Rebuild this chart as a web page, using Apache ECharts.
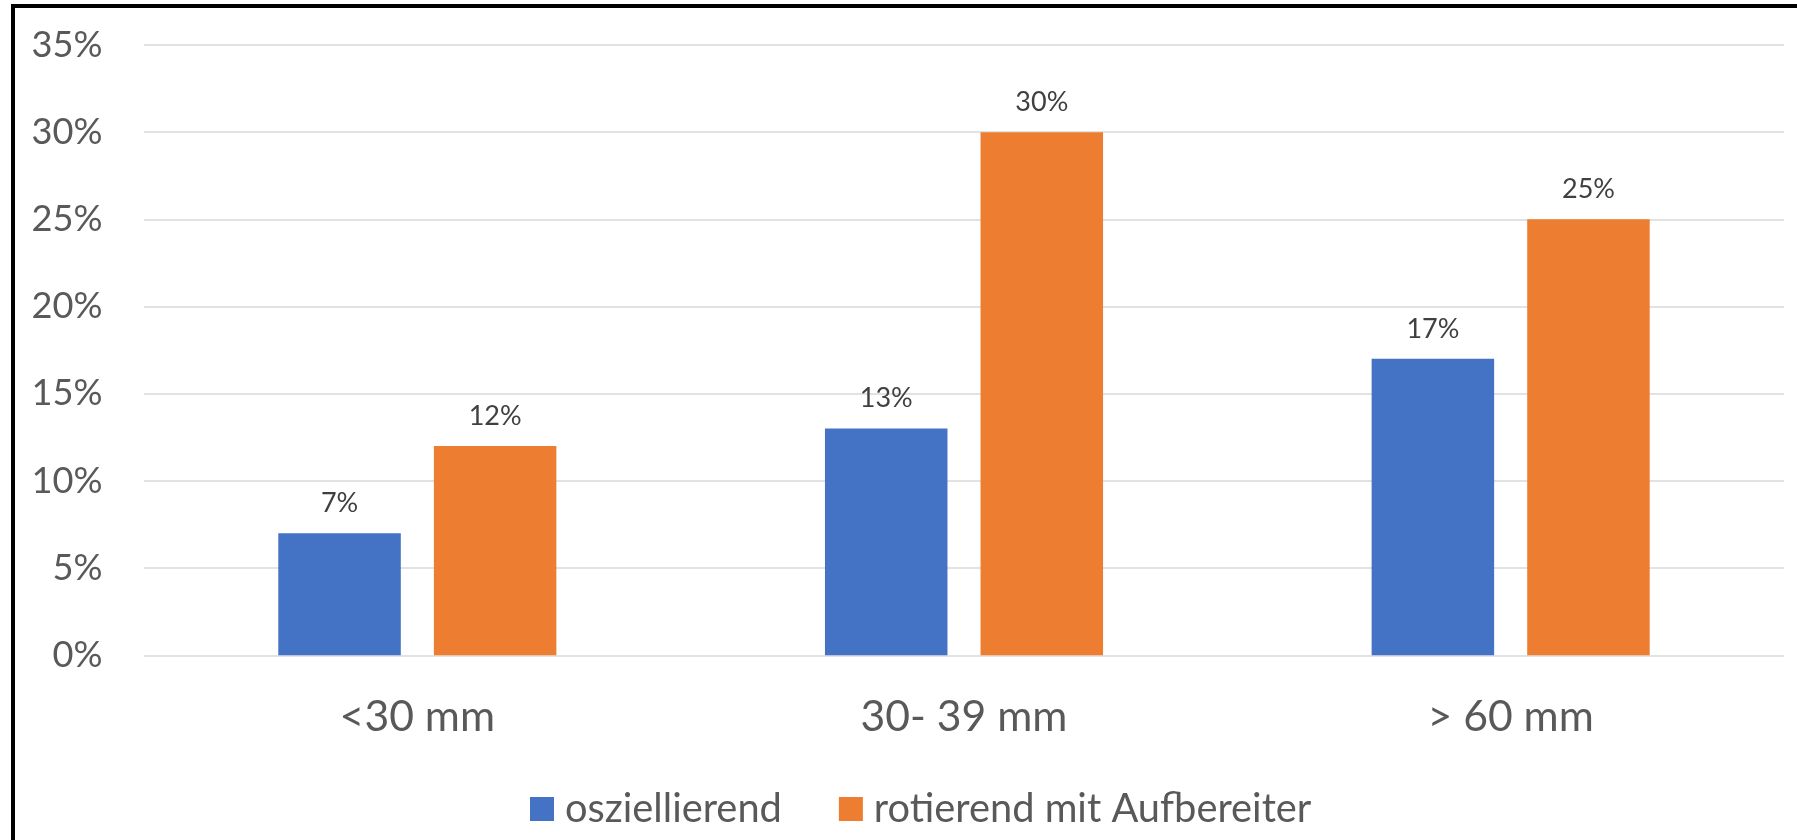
<!DOCTYPE html>
<html>
<head>
<meta charset="utf-8">
<script src="https://cdn.jsdelivr.net/npm/echarts@6/dist/echarts.min.js"></script>
<style>
html,body{margin:0;padding:0;background:#fff;}
#chart{width:1797px;height:840px;}
</style>
</head>
<body>
<div id="chart"></div>
<script>
// ---- data ----
const categories = ['<30 mm', '30- 39 mm', '> 60 mm'];
const seriesNames = ['osziellierend', 'rotierend mit Aufbereiter'];
const oszillierendValues = [0.07, 0.13, 0.17];
const rotierendValues = [0.12, 0.30, 0.25];
const yMin = 0, yMax = 0.35, yInterval = 0.05;

// ---- styling helpers ----
const FONT = 'Lato';
const ctx = document.createElement('canvas').getContext('2d');
function fit(text, target) {
  ctx.font = '100px ' + FONT;
  return Math.round(100 * target / ctx.measureText(text).width * 10) / 10;
}
const yFont = fit('35%', 71);
const xFont = fit('30- 39 mm', 207);
const legFont = fit('rotierend mit Aufbereiter', 437);
const dlFont = fit('30%', 53);

const pct = v => Math.round(v * 100) + '%';
const axisY0 = 655.3;

const chart = echarts.init(document.getElementById('chart'), null, {renderer: 'canvas'});
chart.setOption({
  animation: false,
  backgroundColor: '#ffffff',
  textStyle: {fontFamily: FONT},
  graphic: [{
    type: 'rect', silent: true, z: 100,
    shape: {x: 13, y: 6, width: 2400, height: 2400},
    style: {fill: 'none', stroke: '#000000', lineWidth: 4}
  }],
  grid: {left: 144, right: 13, top: 45, bottom: 840 - axisY0, containLabel: false},
  legend: {
    data: seriesNames,
    left: 525, top: 784,
    itemWidth: 24, itemHeight: 24, itemGap: 57,
    icon: 'rect',
    textStyle: {fontFamily: FONT, fontSize: legFont, color: '#595959', lineHeight: 24, padding: [0, 0, 0, 6]}
  },
  xAxis: {
    type: 'category',
    data: categories,
    axisLine: {show: false},
    axisTick: {show: false},
    axisLabel: {fontFamily: FONT, fontSize: xFont, lineHeight: xFont, color: '#595959', margin: 717 - axisY0 - xFont / 2}
  },
  yAxis: {
    type: 'value',
    min: yMin, max: yMax, interval: yInterval,
    axisLine: {show: false},
    axisTick: {show: false},
    splitLine: {lineStyle: {color: '#D9D9D9', width: 1.5}},
    axisLabel: {fontFamily: FONT, fontSize: yFont, color: '#595959', margin: 144 - 102.5, formatter: pct}
  },
  series: [
    {
      name: seriesNames[0], type: 'bar', data: oszillierendValues,
      barWidth: 122.5, barGap: '27%',
      itemStyle: {color: '#4472C4'},
      label: {show: true, position: 'top', distance: 30 - dlFont / 2, fontFamily: FONT, fontSize: dlFont, lineHeight: dlFont, color: '#404040', formatter: p => pct(p.value)}
    },
    {
      name: seriesNames[1], type: 'bar', data: rotierendValues,
      barWidth: 122.5, barGap: '27%',
      itemStyle: {color: '#ED7D31'},
      label: {show: true, position: 'top', distance: 30 - dlFont / 2, fontFamily: FONT, fontSize: dlFont, lineHeight: dlFont, color: '#404040', formatter: p => pct(p.value)}
    }
  ]
});
</script>
</body>
</html>
